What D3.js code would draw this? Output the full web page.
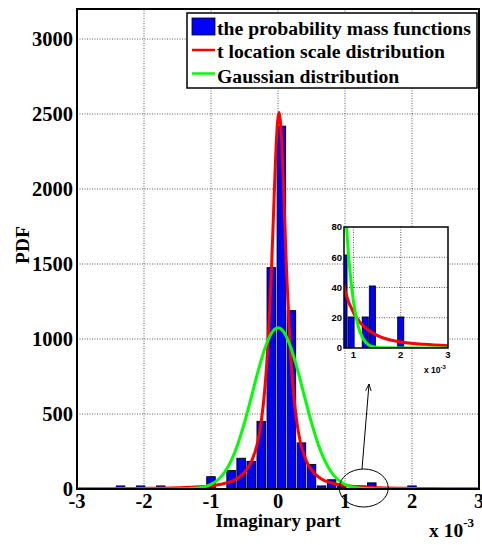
<!DOCTYPE html>
<html>
<head>
<meta charset="utf-8">
<script src="https://cdn.jsdelivr.net/npm/d3@7"></script>
<style>
  html, body { margin: 0; padding: 0; background: #fff; }
  svg { display: block; }
  text { font-family: "Liberation Serif", "Times New Roman", serif; font-weight: bold; }
</style>
</head>
<body>
<div id="chart"></div>
<script>
// histogram bins (x in units of 1e-3) and PDF heights
const binCenters = [-2.35, -2.05, -1.75, -1.0, -0.7, -0.55, -0.4, -0.25, -0.1, 0.05, 0.2, 0.35, 0.5, 0.65, 0.8, 0.95, 1.25, 1.4, 2.0]
const pmfValues = [20.5, 20.5, 20.5, 82, 123, 205, 184.5, 451, 1476, 2419, 1189, 307.5, 164, 20.5, 61.5, 20.5, 20.5, 41, 20.5]
const binWidth = 0.15

// t location-scale fit
const tX = [-3, -2.5, -2, -1.5, -1.25, -1, -0.8, -0.6, -0.5, -0.4, -0.3, -0.25, -0.2, -0.15, -0.1, -0.05, -0.02, 0.015, 0.05, 0.08, 0.13, 0.18, 0.23, 0.28, 0.33, 0.43, 0.53, 0.63, 0.83, 1.03, 1.28, 1.5, 2, 2.5, 3]
const tY = [1.5, 2.3, 4.0, 8.1, 12.6, 21.8, 37, 72, 110, 180, 320, 450, 650, 960, 1430, 2040, 2355, 2510, 2355, 2040, 1430, 960, 650, 450, 320, 180, 110, 72, 37, 21.8, 12.6, 8.4, 4.0, 2.4, 1.5]

// Gaussian fit
const gX = [-3, -2, -1.6, -1.4, -1.3, -1.2, -1.1, -1.0, -0.9, -0.8, -0.7, -0.6, -0.5, -0.4, -0.3, -0.2, -0.1, 0, 0.1, 0.2, 0.3, 0.4, 0.5, 0.6, 0.7, 0.8, 0.9, 1.0, 1.1, 1.2, 1.3, 1.4, 1.6, 2, 3]
const gY = [0, 0, 0.1, 1.0, 2.6, 6.4, 14.5, 30.7, 60, 110, 188, 299, 442, 609, 781, 932, 1037, 1075, 1037, 932, 781, 609, 442, 299, 188, 110, 60, 30.7, 14.5, 6.4, 2.6, 1.0, 0.1, 0, 0]

const xTicks = [-3, -2, -1, 0, 1, 2, 3]
const yTicks = [0, 500, 1000, 1500, 2000, 2500, 3000]
const insetXTicks = [1, 2, 3]
const insetYTicks = [0, 20, 40, 60, 80]

const legendLabels = ['the probability mass functions', 't location scale distribution', 'Gaussian distribution']

const width = 482
const height = 545
const margin = { top: 9, right: 3, bottom: 56, left: 77 }

const svg = d3.select('#chart').append('svg')
  .attr('width', width)
  .attr('height', height)

const x = d3.scaleLinear().domain([-3, 3]).range([margin.left, width - margin.right])
const y = d3.scaleLinear().domain([0, 3200]).range([height - margin.bottom, margin.top])

const tPoints = tX.map((v, i) => [v, tY[i]])
const gPoints = gX.map((v, i) => [v, gY[i]])
const bars = binCenters.map((c, i) => ({ c, v: pmfValues[i] }))

function drawGrid(g, xs, ys, xt, yt) {
  const [x0, x1] = xs.range()
  const [y0, y1] = ys.range()
  g.append('g').selectAll('line').data(xt).join('line')
    .attr('x1', d => xs(d)).attr('x2', d => xs(d))
    .attr('y1', y0).attr('y2', y1)
    .attr('stroke', '#333').attr('stroke-width', 0.8).attr('stroke-dasharray', '1,1.5')
  g.append('g').selectAll('line').data(yt).join('line')
    .attr('y1', d => ys(d)).attr('y2', d => ys(d))
    .attr('x1', x0).attr('x2', x1)
    .attr('stroke', '#333').attr('stroke-width', 0.8).attr('stroke-dasharray', '1,1.5')
}

function drawMarks(g, xs, ys) {
  const barW = xs(binWidth * 0.85) - xs(0)
  g.append('g').selectAll('rect').data(bars).join('rect')
    .attr('x', d => xs(d.c) - barW / 2)
    .attr('y', d => ys(d.v))
    .attr('width', barW)
    .attr('height', d => ys(0) - ys(d.v))
    .attr('fill', '#0000ff')
    .attr('stroke', '#000')
    .attr('stroke-width', 0.9)

  const line = d3.line().x(d => xs(d[0])).y(d => ys(d[1])).curve(d3.curveMonotoneX)
  g.append('path').datum(tPoints)
    .attr('d', line).attr('fill', 'none')
    .attr('stroke', '#ff0000').attr('stroke-width', 3)
  g.append('path').datum(gPoints)
    .attr('d', line).attr('fill', 'none')
    .attr('stroke', '#00ff00').attr('stroke-width', 3)
}

// ---- main axes
svg.append('defs').append('clipPath').attr('id', 'mainClip')
  .append('rect')
  .attr('x', x(-3)).attr('y', y(3200))
  .attr('width', x(3) - x(-3)).attr('height', y(0) - y(3200))

drawGrid(svg, x, y, xTicks.slice(1, -1), yTicks.slice(1))
drawMarks(svg.append('g').attr('clip-path', 'url(#mainClip)'), x, y)

svg.append('rect')
  .attr('x', x(-3)).attr('y', y(3200))
  .attr('width', x(3) - x(-3)).attr('height', y(0) - y(3200))
  .attr('fill', 'none').attr('stroke', '#000').attr('stroke-width', 2)

svg.append('g').selectAll('text').data(yTicks).join('text')
  .attr('x', margin.left - 4)
  .attr('y', d => y(d))
  .attr('dy', '0.35em')
  .attr('text-anchor', 'end')
  .attr('font-size', 20.5)
  .text(d => d)

svg.append('g').selectAll('text').data(xTicks).join('text')
  .attr('x', d => x(d))
  .attr('y', 508)
  .attr('text-anchor', 'middle')
  .attr('font-size', 20.5)
  .text(d => d)

svg.append('text')
  .attr('x', x(0))
  .attr('y', 527)
  .attr('text-anchor', 'middle')
  .attr('font-size', 19)
  .text('Imaginary part')

const expo = svg.append('text').attr('x', 429).attr('y', 537).attr('font-size', 19.5)
expo.append('tspan').text('x 10')
expo.append('tspan').attr('dy', -10).attr('font-size', 13).text('-3')

svg.append('text')
  .attr('transform', 'translate(29,245) rotate(-90)')
  .attr('text-anchor', 'middle')
  .attr('font-size', 19.5)
  .text('PDF')

// ---- annotation: ellipse around the right tail + arrow to the inset
svg.append('ellipse')
  .attr('cx', x(1.28)).attr('cy', y(0) - 1)
  .attr('rx', 24.5).attr('ry', 19)
  .attr('fill', 'none').attr('stroke', '#000').attr('stroke-width', 1)

svg.select('defs').append('marker')
  .attr('id', 'arrow')
  .attr('viewBox', '0 -5 10 10')
  .attr('refX', 10).attr('refY', 0)
  .attr('markerWidth', 7).attr('markerHeight', 7)
  .attr('orient', 'auto')
  .append('path').attr('d', 'M0,-4L10,0L0,4').attr('fill', 'none').attr('stroke', '#000').attr('stroke-width', 1.3)

svg.append('line')
  .attr('x1', 362).attr('y1', 469)
  .attr('x2', 369).attr('y2', 384)
  .attr('stroke', '#000').attr('stroke-width', 1)
  .attr('marker-end', 'url(#arrow)')

// ---- inset
const ix = d3.scaleLinear().domain([0.8, 3]).range([344, 448])
const iy = d3.scaleLinear().domain([0, 80]).range([348, 227])

svg.select('defs').append('clipPath').attr('id', 'insetClip')
  .append('rect')
  .attr('x', ix(0.8)).attr('y', iy(80))
  .attr('width', ix(3) - ix(0.8)).attr('height', iy(0) - iy(80))

svg.append('rect')
  .attr('x', ix(0.8)).attr('y', iy(80))
  .attr('width', ix(3) - ix(0.8)).attr('height', iy(0) - iy(80))
  .attr('fill', '#fff')

drawGrid(svg, ix, iy, [1, 2], [20, 40, 60])
drawMarks(svg.append('g').attr('clip-path', 'url(#insetClip)'), ix, iy)

svg.append('rect')
  .attr('x', ix(0.8)).attr('y', iy(80))
  .attr('width', ix(3) - ix(0.8)).attr('height', iy(0) - iy(80))
  .attr('fill', 'none').attr('stroke', '#000').attr('stroke-width', 1.5)

const sans = '"Liberation Sans", Arial, sans-serif'
svg.append('g').selectAll('text').data(insetYTicks).join('text')
  .attr('x', ix(0.8) - 2)
  .attr('y', d => iy(d))
  .attr('dy', '0.35em')
  .attr('text-anchor', 'end')
  .attr('font-size', 9.5)
  .style('font-family', sans)
  .text(d => d)

svg.append('g').selectAll('text').data(insetXTicks).join('text')
  .attr('x', d => ix(d))
  .attr('y', 358)
  .attr('text-anchor', 'middle')
  .attr('font-size', 9.5)
  .style('font-family', sans)
  .text(d => d)

const iexpo = svg.append('text').attr('x', 424).attr('y', 373).attr('font-size', 8.5).style('font-family', sans)
iexpo.append('tspan').text('x 10')
iexpo.append('tspan').attr('dy', -4).attr('font-size', 6).text('-3')

// ---- legend
const legend = svg.append('g')
legend.append('rect')
  .attr('x', 187).attr('y', 13)
  .attr('width', 290).attr('height', 75)
  .attr('fill', '#fff').attr('stroke', '#000').attr('stroke-width', 1.5)

legend.append('rect')
  .attr('x', 192).attr('y', 18).attr('width', 23).attr('height', 17)
  .attr('fill', '#0000ff').attr('stroke', '#000').attr('stroke-width', 0.8)
legend.append('line')
  .attr('x1', 192).attr('x2', 215).attr('y1', 50).attr('y2', 50)
  .attr('stroke', '#ff0000').attr('stroke-width', 2.5)
legend.append('line')
  .attr('x1', 192).attr('x2', 215).attr('y1', 73.5).attr('y2', 73.5)
  .attr('stroke', '#00ff00').attr('stroke-width', 2.5)

const legendBaselines = [35, 58, 82.5]
legend.selectAll('text.lab').data(legendLabels).join('text')
  .attr('class', 'lab')
  .attr('x', 217)
  .attr('y', (d, i) => legendBaselines[i])
  .attr('font-size', 19.7)
  .text(d => d)
</script>
</body>
</html>
